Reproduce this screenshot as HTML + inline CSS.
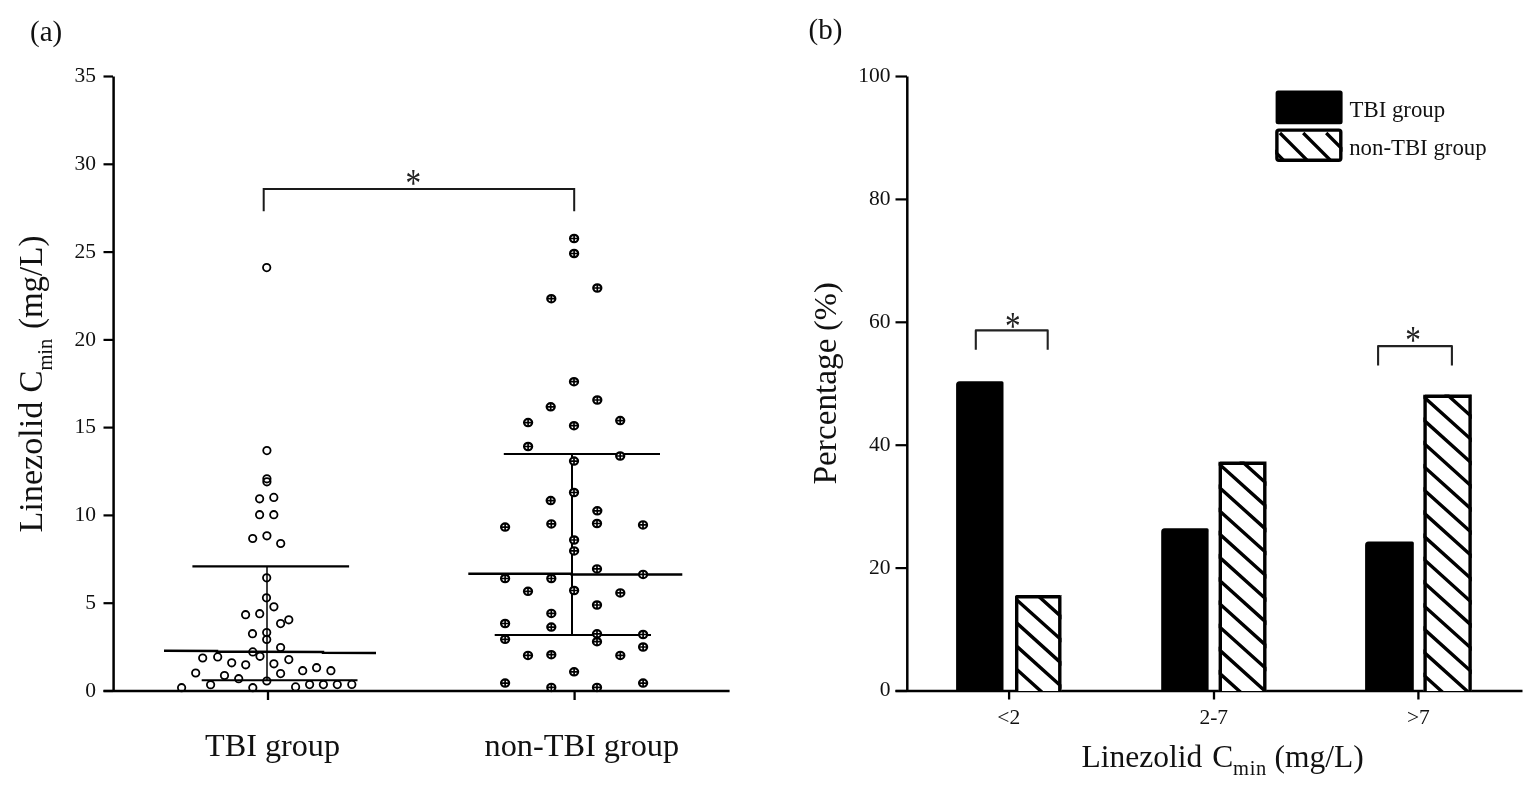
<!DOCTYPE html>
<html><head><meta charset="utf-8"><title>Linezolid Cmin figure</title>
<style>
html,body{margin:0;padding:0;background:#fff;}
body{width:1535px;height:790px;overflow:hidden;}
svg{display:block;}
text{font-family:"Liberation Serif",serif;fill:#111;}
.k{stroke:#000;fill:none;}
text.ast{fill:#222;}
</style></head><body>
<svg width="1535" height="790" viewBox="0 0 1535 790">
<rect width="1535" height="790" fill="#fff"/>
<text x="30" y="40.6" font-size="29">(a)</text>
<path class="k" stroke-width="2.5" d="M113.6,76.5V691"/>
<path class="k" stroke-width="2.5" d="M103.5,691H729.6"/>
<path class="k" stroke-width="2.2" d="M103.5,691H113"/>
<text x="95.9" y="696.6" font-size="21.5" text-anchor="end" fill="#2a2a2a">0</text>
<path class="k" stroke-width="2.2" d="M103.5,603.2H113"/>
<text x="95.9" y="608.8" font-size="21.5" text-anchor="end" fill="#2a2a2a">5</text>
<path class="k" stroke-width="2.2" d="M103.5,515.4H113"/>
<text x="95.9" y="521" font-size="21.5" text-anchor="end" fill="#2a2a2a">10</text>
<path class="k" stroke-width="2.2" d="M103.5,427.6H113"/>
<text x="95.9" y="433.2" font-size="21.5" text-anchor="end" fill="#2a2a2a">15</text>
<path class="k" stroke-width="2.2" d="M103.5,339.9H113"/>
<text x="95.9" y="345.5" font-size="21.5" text-anchor="end" fill="#2a2a2a">20</text>
<path class="k" stroke-width="2.2" d="M103.5,252.1H113"/>
<text x="95.9" y="257.7" font-size="21.5" text-anchor="end" fill="#2a2a2a">25</text>
<path class="k" stroke-width="2.2" d="M103.5,164.3H113"/>
<text x="95.9" y="169.9" font-size="21.5" text-anchor="end" fill="#2a2a2a">30</text>
<path class="k" stroke-width="2.2" d="M103.5,76.5H113"/>
<text x="95.9" y="82.1" font-size="21.5" text-anchor="end" fill="#2a2a2a">35</text>
<path class="k" stroke-width="2.3" d="M268,691V700"/>
<path class="k" stroke-width="2.3" d="M574.6,691V700"/>
<text x="205" y="755.8" font-size="32.2">TBI group</text>
<text x="484.5" y="755.8" font-size="32.3">non-TBI group</text>
<text transform="translate(42,532.6) rotate(-90)" font-size="34.2">Linezolid</text>
<text transform="translate(42,392.6) rotate(-90)" font-size="33">C</text>
<text transform="translate(52,370.6) rotate(-90)" font-size="20.5">min</text>
<text transform="translate(42,329.1) rotate(-90)" font-size="33">(mg/L)</text>
<path stroke="#1a1a1a" fill="none" stroke-width="2" d="M263.7,211.3V189H574.2V211.3"/>
<text class="ast" transform="translate(413.3,195.5) scale(0.8,1)" font-size="39" text-anchor="middle">*</text>
<g class="k"><path stroke-width="2.1" d="M192.4,566.4H349.1"/><path stroke-width="2.5" d="M164,650.7L217,650.9L217,651.8L323,652L323,652.8L376,652.9"/><path stroke-width="1.9" d="M201.7,680.3H357.5"/><path stroke-width="1.5" d="M267,566.4V681"/></g>
<g class="k"><path stroke-width="2.1" d="M503.8,454H660"/><path stroke-width="2.5" d="M468.3,573.8H571.7V574.4H682.3"/><path stroke-width="1.9" d="M494.7,635H651"/><path stroke-width="2" d="M572,454V635"/></g>
<g fill="none" stroke="#000" stroke-width="1.8"><circle cx="266.7" cy="267.6" r="3.7"/><circle cx="266.9" cy="450.6" r="3.7"/><circle cx="266.9" cy="478.8" r="3.7"/><circle cx="266.9" cy="481.8" r="3.7"/><circle cx="259.6" cy="498.8" r="3.7"/><circle cx="273.8" cy="497.4" r="3.7"/><circle cx="259.6" cy="514.7" r="3.7"/><circle cx="273.8" cy="514.7" r="3.7"/><circle cx="252.7" cy="538.5" r="3.7"/><circle cx="266.9" cy="535.8" r="3.7"/><circle cx="280.7" cy="543.5" r="3.7"/><circle cx="266.7" cy="577.8" r="3.7"/><circle cx="266.5" cy="597.8" r="3.7"/><circle cx="273.9" cy="606.8" r="3.7"/><circle cx="245.6" cy="614.7" r="3.7"/><circle cx="259.7" cy="613.7" r="3.7"/><circle cx="280.6" cy="623.6" r="3.7"/><circle cx="288.8" cy="619.8" r="3.7"/><circle cx="252.5" cy="633.7" r="3.7"/><circle cx="266.7" cy="632.5" r="3.7"/><circle cx="266.7" cy="639.5" r="3.7"/><circle cx="280.6" cy="647.5" r="3.7"/><circle cx="252.8" cy="651.9" r="3.7"/><circle cx="260" cy="656.3" r="3.7"/><circle cx="202.7" cy="658" r="3.7"/><circle cx="217.7" cy="656.9" r="3.7"/><circle cx="231.7" cy="662.8" r="3.7"/><circle cx="245.7" cy="664.8" r="3.7"/><circle cx="273.9" cy="663.8" r="3.7"/><circle cx="288.8" cy="659.6" r="3.7"/><circle cx="195.7" cy="673" r="3.7"/><circle cx="224.5" cy="675.5" r="3.7"/><circle cx="238.7" cy="678.7" r="3.7"/><circle cx="280.6" cy="673.6" r="3.7"/><circle cx="302.7" cy="670.7" r="3.7"/><circle cx="316.6" cy="667.7" r="3.7"/><circle cx="330.9" cy="670.7" r="3.7"/><circle cx="266.8" cy="681" r="3.7"/><circle cx="181.6" cy="687.7" r="3.7"/><circle cx="210.6" cy="684.7" r="3.7"/><circle cx="252.8" cy="687.7" r="3.7"/><circle cx="295.6" cy="686.9" r="3.7"/><circle cx="309.6" cy="684.6" r="3.7"/><circle cx="323.4" cy="684.6" r="3.7"/><circle cx="337.3" cy="684.6" r="3.7"/><circle cx="351.8" cy="684.4" r="3.7"/></g>
<g><ellipse cx="574.1" cy="238.5" rx="4.05" ry="3.65" fill="#fff" stroke="#000" stroke-width="2.2"/><path d="M570.1,238.5h8.1M574.1,234.8v7.3" stroke="#000" stroke-width="1.7"/><ellipse cx="574.1" cy="253.5" rx="4.05" ry="3.65" fill="#fff" stroke="#000" stroke-width="2.2"/><path d="M570.1,253.5h8.1M574.1,249.8v7.3" stroke="#000" stroke-width="1.7"/><ellipse cx="597.3" cy="288" rx="4.05" ry="3.65" fill="#fff" stroke="#000" stroke-width="2.2"/><path d="M593.2,288h8.1M597.3,284.4v7.3" stroke="#000" stroke-width="1.7"/><ellipse cx="551.3" cy="298.7" rx="4.05" ry="3.65" fill="#fff" stroke="#000" stroke-width="2.2"/><path d="M547.2,298.7h8.1M551.3,295.1v7.3" stroke="#000" stroke-width="1.7"/><ellipse cx="574" cy="381.7" rx="4.05" ry="3.65" fill="#fff" stroke="#000" stroke-width="2.2"/><path d="M570,381.7h8.1M574,378.1v7.3" stroke="#000" stroke-width="1.7"/><ellipse cx="597.3" cy="400" rx="4.05" ry="3.65" fill="#fff" stroke="#000" stroke-width="2.2"/><path d="M593.2,400h8.1M597.3,396.4v7.3" stroke="#000" stroke-width="1.7"/><ellipse cx="550.7" cy="406.8" rx="4.05" ry="3.65" fill="#fff" stroke="#000" stroke-width="2.2"/><path d="M546.7,406.8h8.1M550.7,403.2v7.3" stroke="#000" stroke-width="1.7"/><ellipse cx="528.1" cy="422.6" rx="4.05" ry="3.65" fill="#fff" stroke="#000" stroke-width="2.2"/><path d="M524.1,422.6h8.1M528.1,419v7.3" stroke="#000" stroke-width="1.7"/><ellipse cx="574" cy="425.7" rx="4.05" ry="3.65" fill="#fff" stroke="#000" stroke-width="2.2"/><path d="M570,425.7h8.1M574,422.1v7.3" stroke="#000" stroke-width="1.7"/><ellipse cx="620.2" cy="420.6" rx="4.05" ry="3.65" fill="#fff" stroke="#000" stroke-width="2.2"/><path d="M616.2,420.6h8.1M620.2,417v7.3" stroke="#000" stroke-width="1.7"/><ellipse cx="528.1" cy="446.5" rx="4.05" ry="3.65" fill="#fff" stroke="#000" stroke-width="2.2"/><path d="M524.1,446.5h8.1M528.1,442.9v7.3" stroke="#000" stroke-width="1.7"/><ellipse cx="574" cy="461.1" rx="4.05" ry="3.65" fill="#fff" stroke="#000" stroke-width="2.2"/><path d="M570,461.1h8.1M574,457.5v7.3" stroke="#000" stroke-width="1.7"/><ellipse cx="620.2" cy="456" rx="4.05" ry="3.65" fill="#fff" stroke="#000" stroke-width="2.2"/><path d="M616.2,456h8.1M620.2,452.4v7.3" stroke="#000" stroke-width="1.7"/><ellipse cx="574" cy="492.5" rx="4.05" ry="3.65" fill="#fff" stroke="#000" stroke-width="2.2"/><path d="M570,492.5h8.1M574,488.9v7.3" stroke="#000" stroke-width="1.7"/><ellipse cx="550.7" cy="500.6" rx="4.05" ry="3.65" fill="#fff" stroke="#000" stroke-width="2.2"/><path d="M546.7,500.6h8.1M550.7,497v7.3" stroke="#000" stroke-width="1.7"/><ellipse cx="597.3" cy="510.8" rx="4.05" ry="3.65" fill="#fff" stroke="#000" stroke-width="2.2"/><path d="M593.2,510.8h8.1M597.3,507.2v7.3" stroke="#000" stroke-width="1.7"/><ellipse cx="505.1" cy="527.1" rx="4.05" ry="3.65" fill="#fff" stroke="#000" stroke-width="2.2"/><path d="M501.1,527.1h8.1M505.1,523.5v7.3" stroke="#000" stroke-width="1.7"/><ellipse cx="551.3" cy="523.9" rx="4.05" ry="3.65" fill="#fff" stroke="#000" stroke-width="2.2"/><path d="M547.2,523.9h8.1M551.3,520.2v7.3" stroke="#000" stroke-width="1.7"/><ellipse cx="597" cy="523.5" rx="4.05" ry="3.65" fill="#fff" stroke="#000" stroke-width="2.2"/><path d="M593,523.5h8.1M597,519.9v7.3" stroke="#000" stroke-width="1.7"/><ellipse cx="643" cy="524.9" rx="4.05" ry="3.65" fill="#fff" stroke="#000" stroke-width="2.2"/><path d="M639,524.9h8.1M643,521.2v7.3" stroke="#000" stroke-width="1.7"/><ellipse cx="574.1" cy="540" rx="4.05" ry="3.65" fill="#fff" stroke="#000" stroke-width="2.2"/><path d="M570.1,540h8.1M574.1,536.4v7.3" stroke="#000" stroke-width="1.7"/><ellipse cx="574.1" cy="550.9" rx="4.05" ry="3.65" fill="#fff" stroke="#000" stroke-width="2.2"/><path d="M570.1,550.9h8.1M574.1,547.2v7.3" stroke="#000" stroke-width="1.7"/><ellipse cx="597" cy="568.9" rx="4.05" ry="3.65" fill="#fff" stroke="#000" stroke-width="2.2"/><path d="M593,568.9h8.1M597,565.2v7.3" stroke="#000" stroke-width="1.7"/><ellipse cx="505.1" cy="578.5" rx="4.05" ry="3.65" fill="#fff" stroke="#000" stroke-width="2.2"/><path d="M501.1,578.5h8.1M505.1,574.9v7.3" stroke="#000" stroke-width="1.7"/><ellipse cx="551.3" cy="578.5" rx="4.05" ry="3.65" fill="#fff" stroke="#000" stroke-width="2.2"/><path d="M547.2,578.5h8.1M551.3,574.9v7.3" stroke="#000" stroke-width="1.7"/><ellipse cx="643.1" cy="574.4" rx="4.05" ry="3.65" fill="#fff" stroke="#000" stroke-width="2.2"/><path d="M639.1,574.4h8.1M643.1,570.8v7.3" stroke="#000" stroke-width="1.7"/><ellipse cx="528" cy="591.3" rx="4.05" ry="3.65" fill="#fff" stroke="#000" stroke-width="2.2"/><path d="M524,591.3h8.1M528,587.6v7.3" stroke="#000" stroke-width="1.7"/><ellipse cx="574.1" cy="590.5" rx="4.05" ry="3.65" fill="#fff" stroke="#000" stroke-width="2.2"/><path d="M570.1,590.5h8.1M574.1,586.9v7.3" stroke="#000" stroke-width="1.7"/><ellipse cx="620.3" cy="592.9" rx="4.05" ry="3.65" fill="#fff" stroke="#000" stroke-width="2.2"/><path d="M616.2,592.9h8.1M620.3,589.2v7.3" stroke="#000" stroke-width="1.7"/><ellipse cx="597" cy="605" rx="4.05" ry="3.65" fill="#fff" stroke="#000" stroke-width="2.2"/><path d="M593,605h8.1M597,601.4v7.3" stroke="#000" stroke-width="1.7"/><ellipse cx="551.3" cy="613.4" rx="4.05" ry="3.65" fill="#fff" stroke="#000" stroke-width="2.2"/><path d="M547.2,613.4h8.1M551.3,609.8v7.3" stroke="#000" stroke-width="1.7"/><ellipse cx="505.1" cy="623.5" rx="4.05" ry="3.65" fill="#fff" stroke="#000" stroke-width="2.2"/><path d="M501.1,623.5h8.1M505.1,619.9v7.3" stroke="#000" stroke-width="1.7"/><ellipse cx="551.3" cy="627.1" rx="4.05" ry="3.65" fill="#fff" stroke="#000" stroke-width="2.2"/><path d="M547.2,627.1h8.1M551.3,623.5v7.3" stroke="#000" stroke-width="1.7"/><ellipse cx="597" cy="633.8" rx="4.05" ry="3.65" fill="#fff" stroke="#000" stroke-width="2.2"/><path d="M593,633.8h8.1M597,630.1v7.3" stroke="#000" stroke-width="1.7"/><ellipse cx="643.1" cy="634.5" rx="4.05" ry="3.65" fill="#fff" stroke="#000" stroke-width="2.2"/><path d="M639.1,634.5h8.1M643.1,630.9v7.3" stroke="#000" stroke-width="1.7"/><ellipse cx="505.1" cy="639.3" rx="4.05" ry="3.65" fill="#fff" stroke="#000" stroke-width="2.2"/><path d="M501.1,639.3h8.1M505.1,635.6v7.3" stroke="#000" stroke-width="1.7"/><ellipse cx="597" cy="641.7" rx="4.05" ry="3.65" fill="#fff" stroke="#000" stroke-width="2.2"/><path d="M593,641.7h8.1M597,638.1v7.3" stroke="#000" stroke-width="1.7"/><ellipse cx="643.1" cy="647" rx="4.05" ry="3.65" fill="#fff" stroke="#000" stroke-width="2.2"/><path d="M639.1,647h8.1M643.1,643.4v7.3" stroke="#000" stroke-width="1.7"/><ellipse cx="528" cy="655.4" rx="4.05" ry="3.65" fill="#fff" stroke="#000" stroke-width="2.2"/><path d="M524,655.4h8.1M528,651.8v7.3" stroke="#000" stroke-width="1.7"/><ellipse cx="551.3" cy="654.7" rx="4.05" ry="3.65" fill="#fff" stroke="#000" stroke-width="2.2"/><path d="M547.2,654.7h8.1M551.3,651.1v7.3" stroke="#000" stroke-width="1.7"/><ellipse cx="620.3" cy="655.4" rx="4.05" ry="3.65" fill="#fff" stroke="#000" stroke-width="2.2"/><path d="M616.2,655.4h8.1M620.3,651.8v7.3" stroke="#000" stroke-width="1.7"/><ellipse cx="574.1" cy="671.8" rx="4.05" ry="3.65" fill="#fff" stroke="#000" stroke-width="2.2"/><path d="M570.1,671.8h8.1M574.1,668.1v7.3" stroke="#000" stroke-width="1.7"/><ellipse cx="505.1" cy="683.1" rx="4.05" ry="3.65" fill="#fff" stroke="#000" stroke-width="2.2"/><path d="M501.1,683.1h8.1M505.1,679.5v7.3" stroke="#000" stroke-width="1.7"/><ellipse cx="551.3" cy="687.4" rx="4.05" ry="3.65" fill="#fff" stroke="#000" stroke-width="2.2"/><path d="M547.2,687.4h8.1M551.3,683.8v7.3" stroke="#000" stroke-width="1.7"/><ellipse cx="597" cy="687.4" rx="4.05" ry="3.65" fill="#fff" stroke="#000" stroke-width="2.2"/><path d="M593,687.4h8.1M597,683.8v7.3" stroke="#000" stroke-width="1.7"/><ellipse cx="643.1" cy="683.1" rx="4.05" ry="3.65" fill="#fff" stroke="#000" stroke-width="2.2"/><path d="M639.1,683.1h8.1M643.1,679.5v7.3" stroke="#000" stroke-width="1.7"/></g>
<text x="808.5" y="39.1" font-size="29">(b)</text>
<path class="k" stroke-width="2.5" d="M907.3,76.5V691"/>
<path class="k" stroke-width="2.5" d="M895.5,691H1522.5"/>
<path class="k" stroke-width="2.2" d="M895.5,691H907"/>
<text x="890.4" y="696.4" font-size="21.5" text-anchor="end" fill="#2a2a2a">0</text>
<path class="k" stroke-width="2.2" d="M895.5,568.1H907"/>
<text x="890.4" y="573.5" font-size="21.5" text-anchor="end" fill="#2a2a2a">20</text>
<path class="k" stroke-width="2.2" d="M895.5,445.2H907"/>
<text x="890.4" y="450.6" font-size="21.5" text-anchor="end" fill="#2a2a2a">40</text>
<path class="k" stroke-width="2.2" d="M895.5,322.3H907"/>
<text x="890.4" y="327.7" font-size="21.5" text-anchor="end" fill="#2a2a2a">60</text>
<path class="k" stroke-width="2.2" d="M895.5,199.4H907"/>
<text x="890.4" y="204.8" font-size="21.5" text-anchor="end" fill="#2a2a2a">80</text>
<path class="k" stroke-width="2.2" d="M895.5,76.5H907"/>
<text x="890.4" y="81.9" font-size="21.5" text-anchor="end" fill="#2a2a2a">100</text>
<path class="k" stroke-width="2.3" d="M1009.1,691V699.5"/>
<path class="k" stroke-width="2.3" d="M1214,691V699.5"/>
<path class="k" stroke-width="2.3" d="M1418.4,691V699.5"/>
<text x="1008.8" y="723.5" font-size="21.5" text-anchor="middle" fill="#2a2a2a">&lt;2</text>
<text x="1213.8" y="723.5" font-size="21.5" text-anchor="middle" fill="#2a2a2a">2-7</text>
<text x="1418.4" y="723.5" font-size="21.5" text-anchor="middle" fill="#2a2a2a">&gt;7</text>
<text x="1081.6" y="766.5" font-size="31.5">Linezolid</text>
<text x="1212.2" y="766.5" font-size="31.5">C</text>
<text x="1233" y="775.4" font-size="20.5" letter-spacing="0.7">min</text>
<text x="1274.6" y="766.5" font-size="31.5">(mg/L)</text>
<text transform="translate(836.4,484.5) rotate(-90)" font-size="33.3">Percentage</text>
<text transform="translate(836.4,331) rotate(-90)" font-size="32.5">(%)</text>
<path d="M956.1,691V384.8Q956.1,381.3 959.6,381.3H1002Q1003.5,381.3 1003.5,382.8V691Z" fill="#000"/>
<path d="M1161.2,691V531.7Q1161.2,528.2 1164.7,528.2H1207.1Q1208.6,528.2 1208.6,529.7V691Z" fill="#000"/>
<path d="M1365.1,691V545Q1365.1,541.5 1368.6,541.5H1412.3Q1413.8,541.5 1413.8,543V691Z" fill="#000"/>
<defs><clipPath id="cb0"><rect x="1015" y="595" width="46.5" height="96"/></clipPath><clipPath id="cb1"><rect x="1218.6" y="461.6" width="47.9" height="229.4"/></clipPath><clipPath id="cb2"><rect x="1423.4" y="394.5" width="48.4" height="296.5"/></clipPath></defs>
<g clip-path="url(#cb0)"><rect x="1015" y="595" width="46.5" height="96" fill="#fff"/><path d="M1010,524.2L1066.5,575M1010,547.4L1066.5,598.2M1010,570.6L1066.5,621.4M1010,593.8L1066.5,644.6M1010,617L1066.5,667.9M1010,640.2L1066.5,691M1010,663.4L1066.5,714.2M1010,686.6L1066.5,737.4" stroke="#000" stroke-width="3.4" fill="none"/></g><path d="M1016.7,691V596.7H1059.8V691" stroke="#000" stroke-width="3.4" fill="none" stroke-linejoin="round"/>
<g clip-path="url(#cb1)"><rect x="1218.6" y="461.6" width="47.9" height="229.4" fill="#fff"/><path d="M1213.6,389.5L1271.5,441.6M1213.6,412.7L1271.5,464.8M1213.6,435.9L1271.5,488M1213.6,459.1L1271.5,511.2M1213.6,482.3L1271.5,534.4M1213.6,505.5L1271.5,557.6M1213.6,528.7L1271.5,580.8M1213.6,551.9L1271.5,604M1213.6,575.1L1271.5,627.2M1213.6,598.3L1271.5,650.4M1213.6,621.5L1271.5,673.6M1213.6,644.7L1271.5,696.8M1213.6,667.9L1271.5,720M1213.6,691.1L1271.5,743.2" stroke="#000" stroke-width="3.4" fill="none"/></g><path d="M1220.3,691V463.3H1264.8V691" stroke="#000" stroke-width="3.4" fill="none" stroke-linejoin="round"/>
<g clip-path="url(#cb2)"><rect x="1423.4" y="394.5" width="48.4" height="296.5" fill="#fff"/><path d="M1418.4,322.4L1476.8,375M1418.4,345.6L1476.8,398.2M1418.4,368.8L1476.8,421.4M1418.4,392L1476.8,444.6M1418.4,415.2L1476.8,467.8M1418.4,438.4L1476.8,491M1418.4,461.6L1476.8,514.2M1418.4,484.8L1476.8,537.4M1418.4,508L1476.8,560.6M1418.4,531.2L1476.8,583.8M1418.4,554.4L1476.8,607M1418.4,577.6L1476.8,630.2M1418.4,600.8L1476.8,653.4M1418.4,624L1476.8,676.6M1418.4,647.2L1476.8,699.8M1418.4,670.4L1476.8,723" stroke="#000" stroke-width="3.4" fill="none"/></g><path d="M1425.1,691V396.2H1470.1V691" stroke="#000" stroke-width="3.4" fill="none" stroke-linejoin="round"/>
<path d="M975.8,349.7V330.4H1047.7V349.7" stroke="#222" stroke-width="2.1" stroke-linejoin="round" fill="none"/>
<path d="M1378.1,365.5V346.1H1451.9V365.5" stroke="#222" stroke-width="2.1" stroke-linejoin="round" fill="none"/>
<text class="ast" transform="translate(1012.7,338.5) scale(0.8,1)" font-size="39" text-anchor="middle">*</text>
<text class="ast" transform="translate(1413.1,352.6) scale(0.8,1)" font-size="39" text-anchor="middle">*</text>
<rect x="1275.6" y="90.6" width="67" height="33.6" rx="2.5" fill="#000"/>
<defs><clipPath id="cl"><rect x="1275.2" y="128.4" width="67.3" height="33.5"/></clipPath></defs>
<g clip-path="url(#cl)"><path d="M1256.3,133L1306.3,183M1279.9,133L1329.9,183M1303.2,133L1353.2,183M1326.2,133L1376.2,183" stroke="#000" stroke-width="3.3"/></g>
<rect x="1276.9" y="130.1" width="63.9" height="30.1" rx="2" fill="none" stroke="#000" stroke-width="3.4"/>
<text x="1349.5" y="116.7" font-size="22.8">TBI group</text>
<text x="1349.2" y="155" font-size="22.8">non-TBI group</text>
</svg>
</body></html>
